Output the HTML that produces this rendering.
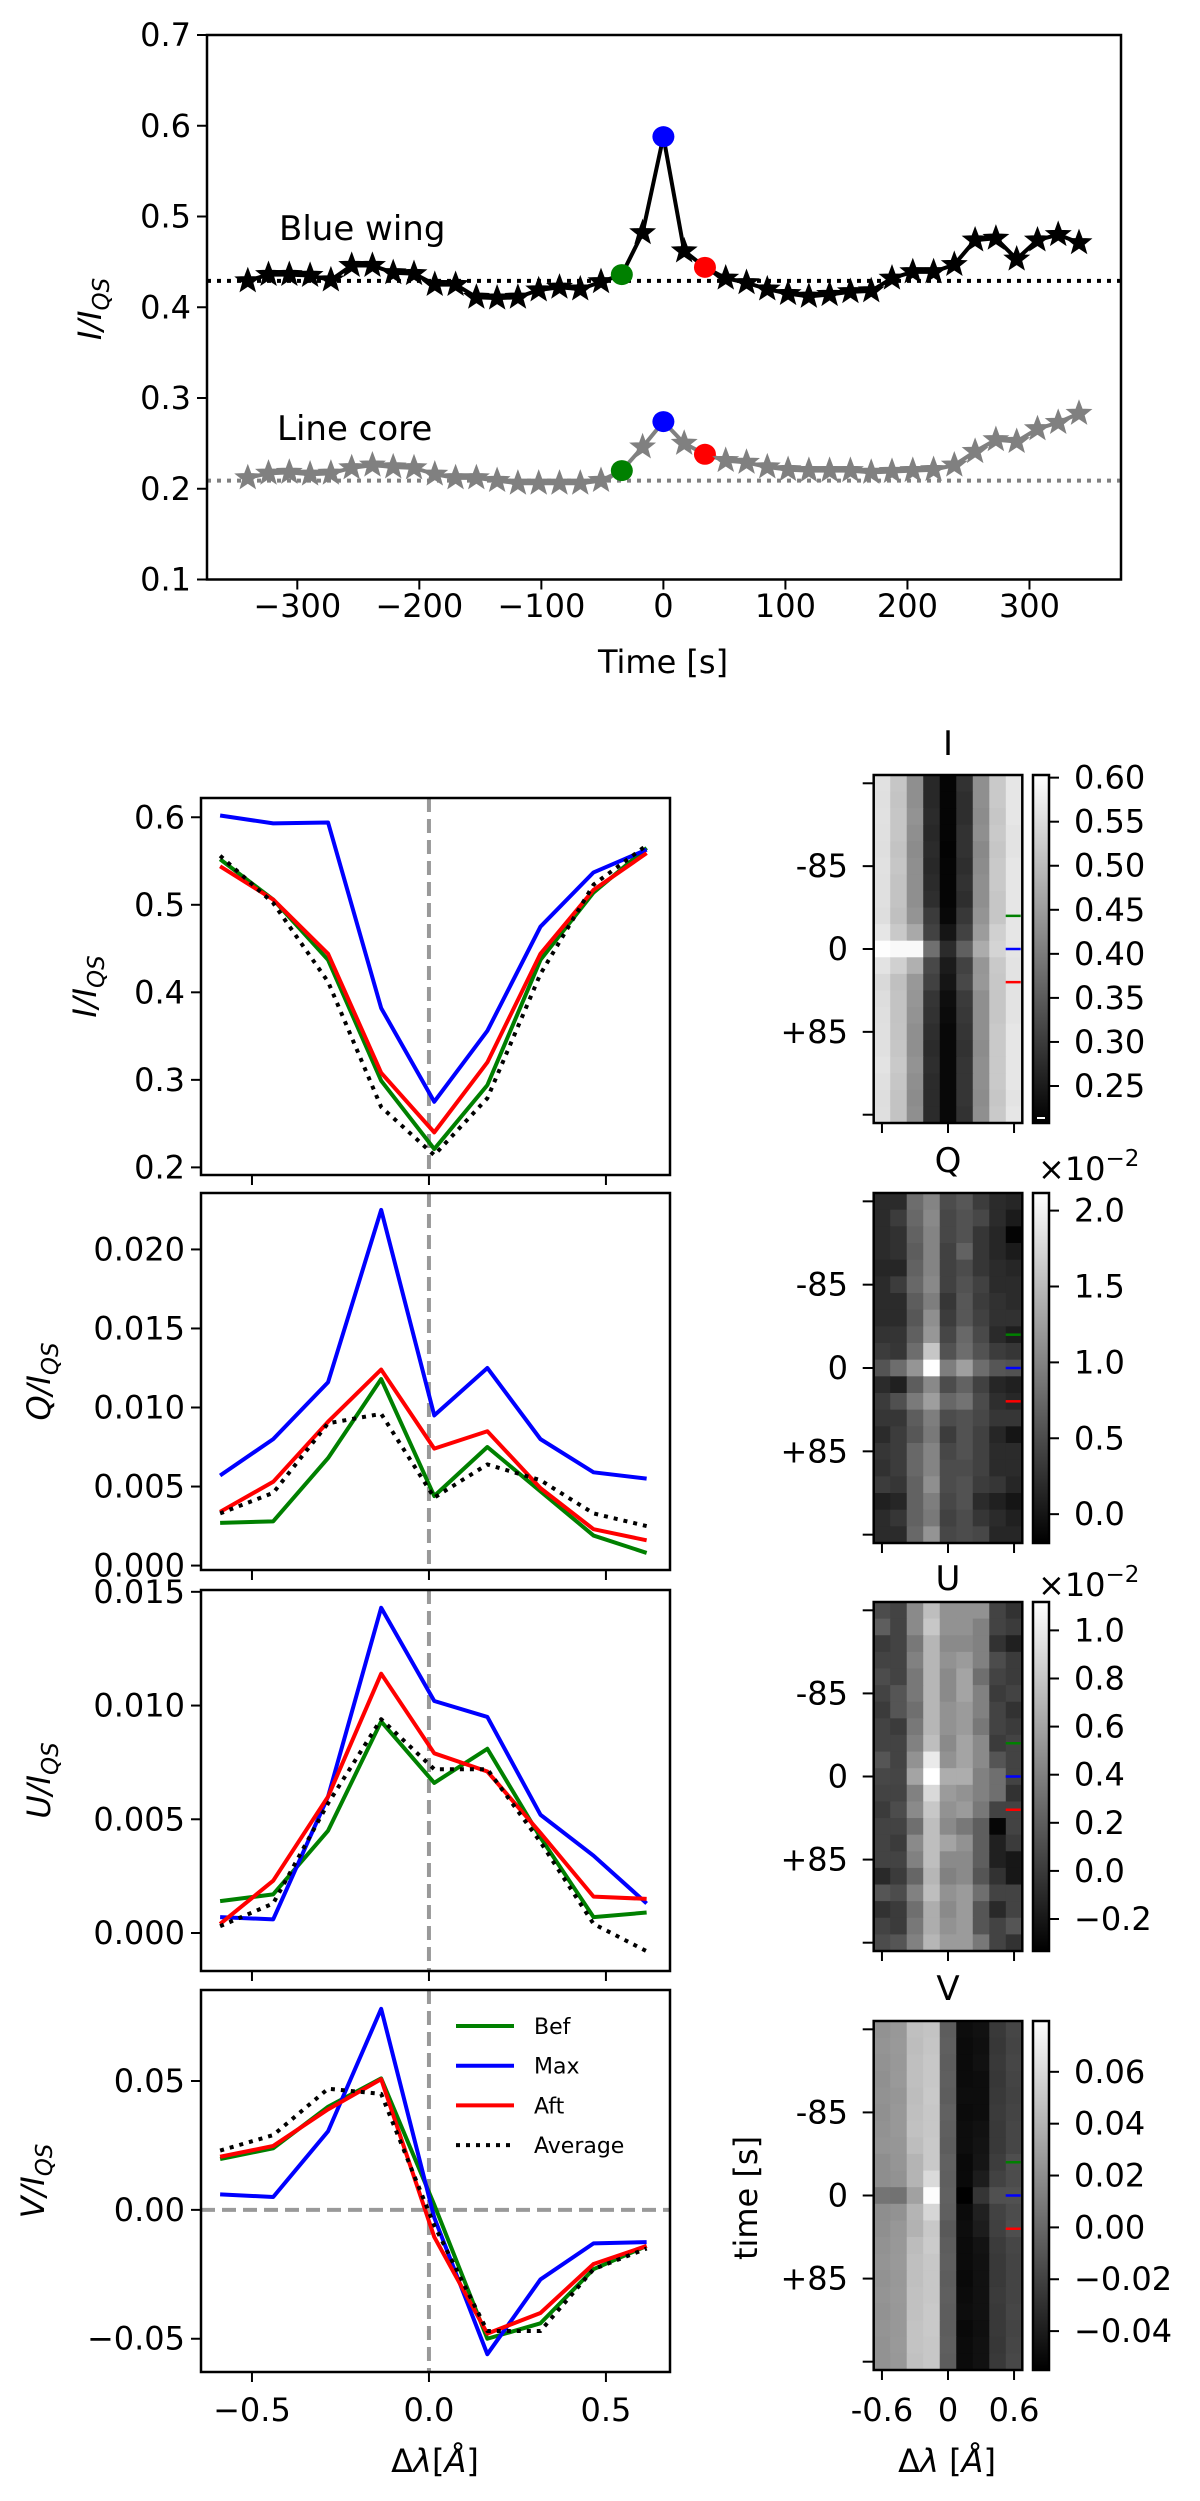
<!DOCTYPE html>
<html><head><meta charset="utf-8"><style>
html,body{margin:0;padding:0;background:#fff;}
svg text{font-family:"DejaVu Sans","Liberation Sans",sans-serif;fill:#000;}
</style></head><body>
<svg id="fig" xmlns="http://www.w3.org/2000/svg" width="1200" height="2496" viewBox="0 0 1200 2496"></svg>
<script>
// ---------- Top panel data ----------
const timeIdx = [-20,-19,-18,-17,-16,-15,-14,-13,-12,-11,-10,-9,-8,-7,-6,-5,-4,-3,-2,-1,0,1,2,3,4,5,6,7,8,9,10,11,12,13,14,15,16,17,18,19,20];
const timeStep = 17.03;
const blueWing = [0.429,0.436,0.436,0.435,0.430,0.446,0.446,0.438,0.437,0.425,0.425,0.411,0.410,0.411,0.419,0.422,0.420,0.428,0.436,0.482,0.588,0.462,0.444,0.432,0.427,0.420,0.415,0.412,0.414,0.417,0.418,0.432,0.439,0.439,0.447,0.474,0.476,0.453,0.474,0.480,0.471];
const lineCore = [0.212,0.217,0.218,0.216,0.217,0.223,0.226,0.224,0.223,0.216,0.212,0.212,0.209,0.206,0.206,0.206,0.206,0.209,0.220,0.246,0.274,0.250,0.238,0.231,0.229,0.224,0.221,0.220,0.220,0.220,0.218,0.219,0.220,0.221,0.226,0.241,0.254,0.252,0.266,0.273,0.283];
const blueWingRef = 0.429, lineCoreRef = 0.209;
const topXTicks = [-300,-200,-100,0,100,200,300];
const topYTicks = [0.1,0.2,0.3,0.4,0.5,0.6,0.7];

// ---------- Profile panels data ----------
const wl = [-0.59,-0.44,-0.285,-0.135,0.015,0.165,0.315,0.465,0.615];
const I_bef=[0.552,0.506,0.437,0.299,0.221,0.294,0.437,0.514,0.565];
const I_max=[0.602,0.593,0.594,0.382,0.275,0.356,0.475,0.537,0.563];
const I_aft=[0.544,0.506,0.444,0.308,0.240,0.320,0.444,0.517,0.559];
const I_avg=[0.556,0.502,0.412,0.269,0.214,0.279,0.421,0.523,0.568];
const Q_bef=[0.0027,0.0028,0.0068,0.0118,0.0044,0.0075,0.0047,0.0019,0.0008];
const Q_max=[0.0057,0.0080,0.0116,0.0225,0.0095,0.0125,0.0080,0.0059,0.0055];
const Q_aft=[0.0034,0.0053,0.0091,0.0124,0.0074,0.0085,0.0049,0.0023,0.0016];
const Q_avg=[0.0033,0.0046,0.0090,0.0096,0.0043,0.0064,0.0054,0.0033,0.0025];
const U_bef=[0.0014,0.0017,0.0045,0.0093,0.0066,0.0081,0.0042,0.0007,0.0009];
const U_max=[0.0007,0.0006,0.0060,0.0143,0.0102,0.0095,0.0052,0.0034,0.0013];
const U_aft=[0.0004,0.0023,0.0060,0.0114,0.0079,0.0071,0.0044,0.0016,0.0015];
const U_avg=[0.0003,0.0013,0.0057,0.0094,0.0072,0.0072,0.0040,0.0004,-0.0008];
const V_bef=[0.0197,0.0239,0.040,0.051,0.002,-0.050,-0.044,-0.023,-0.014];
const V_max=[0.006,0.005,0.0305,0.078,-0.003,-0.056,-0.027,-0.013,-0.0125];
const V_aft=[0.0206,0.0248,0.039,0.0507,-0.0105,-0.048,-0.040,-0.021,-0.014];
const V_avg=[0.023,0.029,0.047,0.045,-0.006,-0.047,-0.047,-0.023,-0.015];
const profXTicks=[-0.5,0,0.5];
const profXTickLabels=["\u22120.5","0.0","0.5"];
const I_yticks=[0.2,0.3,0.4,0.5,0.6], I_ylabels=["0.2","0.3","0.4","0.5","0.6"];
const Q_yticks=[0,0.005,0.01,0.015,0.02], Q_ylabels=["0.000","0.005","0.010","0.015","0.020"];
const U_yticks=[0,0.005,0.01,0.015], U_ylabels=["0.000","0.005","0.010","0.015"];
const V_yticks=[-0.05,0,0.05], V_ylabels=["\u22120.05","0.00","0.05"];

// ---------- Heatmap data (rows k=-10..10, cols 9 wavelengths) ----------
const mapI = [
[0.556,0.515,0.43,0.27,0.215,0.285,0.43,0.52,0.565],
[0.555,0.512,0.43,0.27,0.215,0.28,0.43,0.52,0.565],
[0.557,0.515,0.435,0.275,0.215,0.28,0.425,0.515,0.565],
[0.555,0.515,0.43,0.27,0.215,0.285,0.43,0.52,0.56],
[0.553,0.51,0.425,0.275,0.213,0.285,0.42,0.515,0.56],
[0.556,0.515,0.43,0.27,0.215,0.28,0.425,0.52,0.565],
[0.555,0.51,0.43,0.275,0.215,0.285,0.43,0.52,0.565],
[0.555,0.51,0.43,0.28,0.215,0.28,0.43,0.515,0.565],
[0.552,0.506,0.437,0.299,0.221,0.294,0.437,0.514,0.565],
[0.565,0.52,0.47,0.31,0.24,0.31,0.45,0.53,0.565],
[0.602,0.593,0.594,0.382,0.275,0.356,0.475,0.537,0.563],
[0.56,0.53,0.48,0.32,0.25,0.31,0.44,0.52,0.56],
[0.544,0.506,0.444,0.308,0.240,0.320,0.444,0.517,0.559],
[0.55,0.51,0.44,0.29,0.23,0.3,0.43,0.515,0.56],
[0.553,0.51,0.435,0.285,0.225,0.295,0.43,0.515,0.56],
[0.555,0.512,0.43,0.28,0.22,0.29,0.43,0.52,0.565],
[0.555,0.515,0.43,0.275,0.22,0.285,0.425,0.52,0.565],
[0.56,0.52,0.435,0.28,0.22,0.29,0.43,0.52,0.565],
[0.555,0.515,0.43,0.275,0.22,0.29,0.43,0.52,0.565],
[0.552,0.51,0.425,0.275,0.22,0.29,0.425,0.515,0.56],
[0.553,0.51,0.43,0.275,0.22,0.285,0.43,0.52,0.565]];
const mapQ = [
[0.2,0.2,0.8,1.0,0.5,0.6,0.35,0.2,0.15],
[0.2,0.35,0.75,1.05,0.45,0.55,0.45,0.2,0.05],
[0.2,0.25,0.7,1.0,0.45,0.55,0.3,0.15,-0.15],
[0.2,0.25,0.65,1.0,0.4,0.7,0.3,0.15,0.05],
[0.15,0.15,0.7,1.0,0.4,0.5,0.3,0.2,0.15],
[0.2,0.35,0.75,1.05,0.4,0.55,0.4,0.2,0.2],
[0.2,0.2,0.65,0.95,0.3,0.6,0.35,0.25,0.2],
[0.2,0.2,0.6,1.1,0.35,0.6,0.4,0.25,0.25],
[0.27,0.28,0.68,1.18,0.44,0.75,0.47,0.19,0.08],
[0.35,0.3,0.8,1.6,0.55,0.8,0.55,0.35,0.3],
[0.57,0.80,1.16,2.25,0.95,1.25,0.80,0.59,0.55],
[0.2,0.1,0.65,1.05,0.5,0.7,0.4,0.15,0.1],
[0.34,0.53,0.91,1.24,0.74,0.85,0.49,0.23,0.16],
[0.3,0.3,0.65,0.95,0.5,0.55,0.45,0.3,0.3],
[0.2,0.35,0.6,0.9,0.35,0.55,0.4,0.15,0.0],
[0.3,0.35,0.75,1.0,0.45,0.55,0.4,0.2,0.2],
[0.25,0.35,0.75,1.0,0.5,0.5,0.4,0.2,0.2],
[0.35,0.3,0.7,1.1,0.5,0.55,0.35,0.3,0.15],
[0.1,0.15,0.7,0.95,0.45,0.55,0.2,0.1,0.0],
[0.2,0.3,0.7,0.9,0.4,0.5,0.3,0.2,0.1],
[0.2,0.2,0.75,1.15,0.45,0.5,0.45,0.15,0.15]];
const mapU = [
[0.1,0.05,0.45,0.75,0.5,0.5,0.5,0.05,-0.05],
[0.2,0.05,0.45,0.8,0.5,0.5,0.4,0.05,0.0],
[0.0,0.05,0.35,0.7,0.45,0.45,0.4,-0.05,-0.15],
[0.05,0.05,0.4,0.7,0.5,0.55,0.4,0.1,0.0],
[0.1,0.05,0.35,0.7,0.45,0.6,0.3,0.05,0.0],
[0.05,0.15,0.35,0.7,0.45,0.6,0.4,0.0,0.05],
[0.0,0.15,0.3,0.7,0.5,0.55,0.4,0.05,-0.05],
[0.05,0.0,0.35,0.7,0.5,0.55,0.35,0.05,0.0],
[0.05,0.05,0.4,0.75,0.45,0.6,0.45,0.0,0.05],
[0.15,0.05,0.5,1.0,0.5,0.6,0.45,0.15,0.05],
[0.07,0.06,0.60,1.43,0.65,0.65,0.4,0.3,0.05],
[0.05,0.05,0.4,0.9,0.55,0.5,0.4,0.3,-0.05],
[0.0,0.1,0.45,0.8,0.5,0.55,0.35,0.05,0.05],
[0.05,0.05,0.3,0.75,0.45,0.35,0.2,-0.3,0.05],
[0.05,0.0,0.45,0.75,0.6,0.5,0.2,-0.15,0.0],
[0.05,0.05,0.4,0.75,0.45,0.45,0.2,-0.15,-0.2],
[-0.1,0.0,0.25,0.7,0.4,0.45,0.15,-0.05,-0.2],
[0.15,0.1,0.4,0.75,0.5,0.55,0.3,0.05,0.05],
[-0.05,0.0,0.3,0.65,0.45,0.55,0.15,-0.1,0.05],
[0.05,0.0,0.35,0.65,0.5,0.55,0.15,0.05,0.15],
[0.1,0.15,0.4,0.7,0.55,0.55,0.35,0.05,-0.05]];
const mapV = [
[0.022,0.025,0.046,0.048,-0.006,-0.048,-0.046,-0.025,-0.018],
[0.023,0.026,0.045,0.049,-0.005,-0.049,-0.047,-0.026,-0.019],
[0.022,0.025,0.046,0.050,-0.006,-0.049,-0.046,-0.025,-0.018],
[0.021,0.026,0.046,0.050,-0.005,-0.049,-0.048,-0.026,-0.019],
[0.022,0.024,0.045,0.051,-0.006,-0.048,-0.048,-0.025,-0.020],
[0.021,0.025,0.046,0.050,-0.004,-0.049,-0.048,-0.024,-0.019],
[0.022,0.025,0.047,0.050,-0.005,-0.048,-0.046,-0.025,-0.018],
[0.023,0.024,0.045,0.051,-0.006,-0.048,-0.045,-0.025,-0.018],
[0.0197,0.0239,0.040,0.051,-0.004,-0.050,-0.044,-0.023,-0.014],
[0.020,0.022,0.040,0.060,-0.005,-0.050,-0.040,-0.020,-0.015],
[0.006,0.005,0.030,0.078,-0.004,-0.056,-0.027,-0.013,-0.0125],
[0.020,0.022,0.040,0.058,-0.005,-0.049,-0.038,-0.020,-0.015],
[0.0206,0.0248,0.039,0.0507,-0.008,-0.048,-0.040,-0.021,-0.014],
[0.022,0.025,0.044,0.052,-0.006,-0.049,-0.045,-0.024,-0.018],
[0.023,0.026,0.046,0.050,-0.005,-0.049,-0.046,-0.025,-0.019],
[0.022,0.025,0.046,0.050,-0.006,-0.050,-0.046,-0.025,-0.019],
[0.023,0.026,0.047,0.050,-0.005,-0.049,-0.046,-0.024,-0.019],
[0.022,0.025,0.047,0.051,-0.006,-0.048,-0.046,-0.025,-0.018],
[0.023,0.025,0.048,0.051,-0.006,-0.050,-0.047,-0.025,-0.019],
[0.022,0.026,0.048,0.050,-0.005,-0.049,-0.046,-0.026,-0.018],
[0.022,0.025,0.047,0.050,-0.006,-0.049,-0.046,-0.025,-0.017]];
const mapRanges = {I:[0.208,0.603],Q:[-0.19,2.116],U:[-0.333,1.118],V:[-0.055,0.0796]};
const cbTicksI=[0.25,0.30,0.35,0.40,0.45,0.50,0.55,0.60], cbLabelsI=["0.25","0.30","0.35","0.40","0.45","0.50","0.55","0.60"];
const cbTicksQ=[0,0.5,1.0,1.5,2.0], cbLabelsQ=["0.0","0.5","1.0","1.5","2.0"];
const cbTicksU=[-0.2,0,0.2,0.4,0.6,0.8,1.0], cbLabelsU=["\u22120.2","0.0","0.2","0.4","0.6","0.8","1.0"];
const cbTicksV=[-0.04,-0.02,0,0.02,0.04,0.06], cbLabelsV=["\u22120.04","\u22120.02","0.00","0.02","0.04","0.06"];
const mapTimeTicks=[-170,-85,0,85,170], mapTimeLabels=["","-85","0","+85",""];
const mapWlTicks=[-0.6,0,0.6], mapWlLabels=["-0.6","0","0.6"];

const NS="http://www.w3.org/2000/svg";
const svg=document.getElementById('fig');
function mk(tag,attrs,parent){const e=document.createElementNS(NS,tag);for(const k in attrs)e.setAttribute(k,attrs[k]);(parent||svg).appendChild(e);return e;}
function txt(x,y,s,anchor,size,parent,fill){const t=mk('text',{x:x,y:y,'text-anchor':anchor||'middle','font-size':size||32},parent);if(fill)t.setAttribute('fill',fill);t.textContent=s;return t;}
function ylabel(x,y,prefix,parent){const t=mk('text',{x:0,y:0,'text-anchor':'middle','font-size':32,transform:`translate(${x},${y}) rotate(-90)`},parent);
 const a=mk('tspan',{'font-style':'italic'},t);a.textContent=prefix+'/I';
 const b=mk('tspan',{'font-style':'italic','font-size':23,dy:8},t);b.textContent='QS';return t;}
function starPts(cx,cy,R,r){let p=[];for(let i=0;i<10;i++){const a=-Math.PI/2+i*Math.PI/5;const rr=i%2?r:R;p.push((cx+rr*Math.cos(a)).toFixed(1)+','+(cy+rr*Math.sin(a)).toFixed(1));}return p.join(' ');}

// ================= TOP PANEL =================
(function(){
 const L=207,R=1121,T=35,B=579.5,x0=-374,x1=375,y0=0.1,y1=0.7;
 const sx=v=>L+(v-x0)/(x1-x0)*(R-L), sy=v=>B-(v-y0)/(y1-y0)*(B-T);
 const g=mk('g',{});
 
 
 const times=timeIdx.map(k=>k*timeStep);
 // reference lines
 const r1=mk('line',{x1:L,x2:R,y1:sy(blueWingRef),y2:sy(blueWingRef),stroke:'#000','stroke-width':4,'stroke-dasharray':'4,6'},g);
 
 const r2=mk('line',{x1:L,x2:R,y1:sy(lineCoreRef),y2:sy(lineCoreRef),stroke:'#808080','stroke-width':4,'stroke-dasharray':'4,6'},g);
 
 [[lineCore,'#808080','line-core'],[blueWing,'#000','blue-wing']].forEach(([d,c,n])=>{
  const pl=mk('polyline',{points:times.map((t,i)=>sx(t)+','+sy(d[i])).join(' '),fill:'none',stroke:c,'stroke-width':4,'stroke-linejoin':'round'},g);
  
  times.forEach((t,i)=>{
   const k=timeIdx[i];
   if(k===-2||k===0||k===2){
    const col=k===-2?'#008000':(k===0?'#0000ff':'#ff0000');
    const c2=mk('ellipse',{cx:sx(t),cy:sy(d[i]),rx:11,ry:10.5,fill:col},g);
    
   } else {
    const s=mk('polygon',{points:starPts(sx(t),sy(d[i]),12,5),fill:c,stroke:c,'stroke-width':1.5},g);
    
   }
  });
 });
 const fr=mk('rect',{x:L,y:T,width:R-L,height:B-T,fill:'none',stroke:'#000','stroke-width':2.5},g);
 
 topXTicks.forEach(v=>{mk('line',{x1:sx(v),x2:sx(v),y1:B,y2:B+10,stroke:'#000','stroke-width':2},g);
  const t=txt(sx(v),617,v<0?'\u2212'+(-v):String(v),'middle',32,g);});
 topYTicks.forEach(v=>{mk('line',{x1:L-10,x2:L,y1:sy(v),y2:sy(v),stroke:'#000','stroke-width':2},g);
  const t=txt(L-16,sy(v)+11,v.toFixed(1),'end',32,g);});
 const xl=txt(663,673,'Time [s]','middle',32,g);
 const yl=ylabel(101,309,'I',g);
 const a1=txt(279,240,'Blue wing','start',34,g);
 const a2=txt(277,440,'Line core','start',34,g,'#808080');
})();

// ================= PROFILE PANELS =================
const PL=201,PR=670,px0=-0.644,px1=0.681;
const psx=v=>PL+(v-px0)/(px1-px0)*(PR-PL);
function profile(name,T,B,y0,y1,bef,max,aft,avg,yt,yl,labX,stok,bottom,hzero){
 const g=mk('g',{});
 
 
 const sy=v=>B-(v-y0)/(y1-y0)*(B-T);
 const cl='clip-'+name;const cp=mk('clipPath',{id:cl},g);mk('rect',{x:PL,y:T,width:PR-PL,height:B-T},cp);
 const inner=mk('g',{'clip-path':`url(#${cl})`},g);
 const z=mk('line',{x1:psx(0),x2:psx(0),y1:T,y2:B,stroke:'#999','stroke-width':4,'stroke-dasharray':'14,7'},inner);
 
 if(hzero){const h=mk('line',{x1:PL,x2:PR,y1:sy(0),y2:sy(0),stroke:'#999','stroke-width':4,'stroke-dasharray':'14,7'},inner);
  }
 [[bef,'#008000','bef',null],[max,'#0000ff','max',null],[aft,'#ff0000','aft',null],[avg,'#000','average','4,6']].forEach(([d,c,n,da])=>{
  const p=mk('polyline',{points:wl.map((w,i)=>psx(w)+','+sy(d[i])).join(' '),fill:'none',stroke:c,'stroke-width':4,'stroke-linejoin':'round'},inner);
  if(da)p.setAttribute('stroke-dasharray',da);
  
 });
 mk('rect',{x:PL,y:T,width:PR-PL,height:B-T,fill:'none',stroke:'#000','stroke-width':2.5},g);
 profXTicks.forEach((v,i)=>{mk('line',{x1:psx(v),x2:psx(v),y1:B,y2:B+10,stroke:'#000','stroke-width':2},g);
  if(bottom){const t=txt(psx(v),2421,profXTickLabels[i],'middle',32,g);}});
 yt.forEach((v,i)=>{mk('line',{x1:PL-10,x2:PL,y1:sy(v),y2:sy(v),stroke:'#000','stroke-width':2},g);
  const t=txt(PL-16,sy(v)+11,yl[i],'end',32,g);});
 const l=ylabel(labX,(T+B)/2,stok,g);
 return {g,sy};
}
profile('stokes-i',798,1175,0.1913,0.622,I_bef,I_max,I_aft,I_avg,I_yticks,I_ylabels,96,'I',false,false);
profile('stokes-q',1193,1570,-0.00028,0.02357,Q_bef,Q_max,Q_aft,Q_avg,Q_yticks,Q_ylabels,50,'Q',false,false);
profile('stokes-u',1590,1971,-0.00167,0.01508,U_bef,U_max,U_aft,U_avg,U_yticks,U_ylabels,50,'U',false,false);
const vp=profile('stokes-v',1990,2372,-0.0629,0.0853,V_bef,V_max,V_aft,V_avg,V_yticks,V_ylabels,44,'V',true,true);
(function(){
 const xl=mk('text',{x:435,y:2472,'text-anchor':'middle','font-size':32});
 
 xl.innerHTML='\u0394<tspan font-style="italic">\u03bb</tspan>[<tspan font-style="italic">\u00c5</tspan>]';
 const lg=mk('g',{});
 
 [['Bef','#008000',null],['Max','#0000ff',null],['Aft','#ff0000',null],['Average','#000','4,6']].forEach(([s,c,da],i)=>{
  const y=2026+i*39.7;
  const ln=mk('line',{x1:456,x2:514,y1:y,y2:y,stroke:c,'stroke-width':4},lg);if(da)ln.setAttribute('stroke-dasharray',da);
  
  const t=txt(534,y+8,s,'start',22,lg);
 });
})();

// ================= HEATMAPS =================
const HL=873.7,HR=1022.3,CBL=1033,CBR=1049;
function heatmap(name,T,B,data,rng,cbt,cbl,title,titleY,expo,expoY,showX){
 const g=mk('g',{});
 
 
 const rows=data.length,cols=data[0].length,cw=(HR-HL)/cols,rh=(B-T)/rows;
 const norm=v=>Math.max(0,Math.min(1,(v-rng[0])/(rng[1]-rng[0])));
 data.forEach((row,r)=>row.forEach((v,c)=>{
  const gv=Math.round(255*norm(v));
  const cell=mk('rect',{x:(HL+c*cw).toFixed(2),y:(T+r*rh).toFixed(2),width:(cw+0.6).toFixed(2),height:(rh+0.6).toFixed(2),fill:`rgb(${gv},${gv},${gv})`},g);
  
 }));
 const rowY=k=>T+(k+10.5)*rh;
 [[-2,'#008000'],[0,'#0000ff'],[2,'#ff0000']].forEach(([k,c])=>{const m=mk('line',{x1:1005.7,x2:1020.7,y1:rowY(k),y2:rowY(k),stroke:c,'stroke-width':2.5},g);
  });
 mk('rect',{x:HL,y:T,width:HR-HL,height:B-T,fill:'none',stroke:'#000','stroke-width':2.5},g);
 mapTimeTicks.forEach((t,i)=>{const y=rowY(t/17);mk('line',{x1:862.7,x2:HL,y1:y,y2:y,stroke:'#000','stroke-width':2},g);
  if(mapTimeLabels[i]){const l=txt(848,y+11,mapTimeLabels[i],'end',32,g);}});
 const wx=v=>HL+cw/2+(v+0.6)/0.15*cw;
 mapWlTicks.forEach((v,i)=>{mk('line',{x1:wx(v),x2:wx(v),y1:B,y2:B+10,stroke:'#000','stroke-width':2},g);
  if(showX){const l=txt(wx(v),2421,mapWlLabels[i],'middle',32,g);}});
 const tt=txt((HL+HR)/2,titleY+12,title,'middle',34,g);
 // colorbar
 const gid='cbg-'+name;const gr=mk('linearGradient',{id:gid,x1:0,y1:1,x2:0,y2:0},g);
 mk('stop',{offset:0,'stop-color':'#000'},gr);mk('stop',{offset:1,'stop-color':'#fff'},gr);
 const cb=mk('rect',{x:CBL,y:T,width:CBR-CBL,height:B-T,fill:`url(#${gid})`,stroke:'#000','stroke-width':2.5},g);
 
 const cy=v=>B-(v-rng[0])/(rng[1]-rng[0])*(B-T);
 cbt.forEach((v,i)=>{mk('line',{x1:CBR,x2:CBR+10,y1:cy(v),y2:cy(v),stroke:'#000','stroke-width':2},g);
  const l=txt(1074,cy(v)+11,cbl[i],'start',32,g);});
 if(expo){const e=mk('text',{x:1038,y:expoY,'font-size':32,'text-anchor':'start'},g);
  
  e.innerHTML='\u00d710<tspan font-size="23" dy="-14">\u22122</tspan>';}
}
heatmap('stokes-i',775,1123,mapI,mapRanges.I,cbTicksI,cbLabelsI,'I',743,false,0,false);
heatmap('stokes-q',1193,1543,mapQ,mapRanges.Q,cbTicksQ,cbLabelsQ,'Q',1160,true,1180,false);
heatmap('stokes-u',1602,1951,mapU,mapRanges.U,cbTicksU,cbLabelsU,'U',1578,true,1596,false);
heatmap('stokes-v',2021,2370,mapV,mapRanges.V,cbTicksV,cbLabelsV,'V',1988,false,0,true);
(function(){
 const w=mk('line',{x1:1037,x2:1045,y1:1118,y2:1118,stroke:'#fff','stroke-width':2});
 
 const xl=mk('text',{x:947,y:2472,'text-anchor':'middle','font-size':32});
 
 xl.innerHTML='\u0394<tspan font-style="italic">\u03bb</tspan> [<tspan font-style="italic">\u00c5</tspan>]';
 const yl=mk('text',{x:0,y:0,'text-anchor':'middle','font-size':32,transform:'translate(757,2198) rotate(-90)'});
 
 yl.textContent='time [s]';
})();
</script>
</body></html>
